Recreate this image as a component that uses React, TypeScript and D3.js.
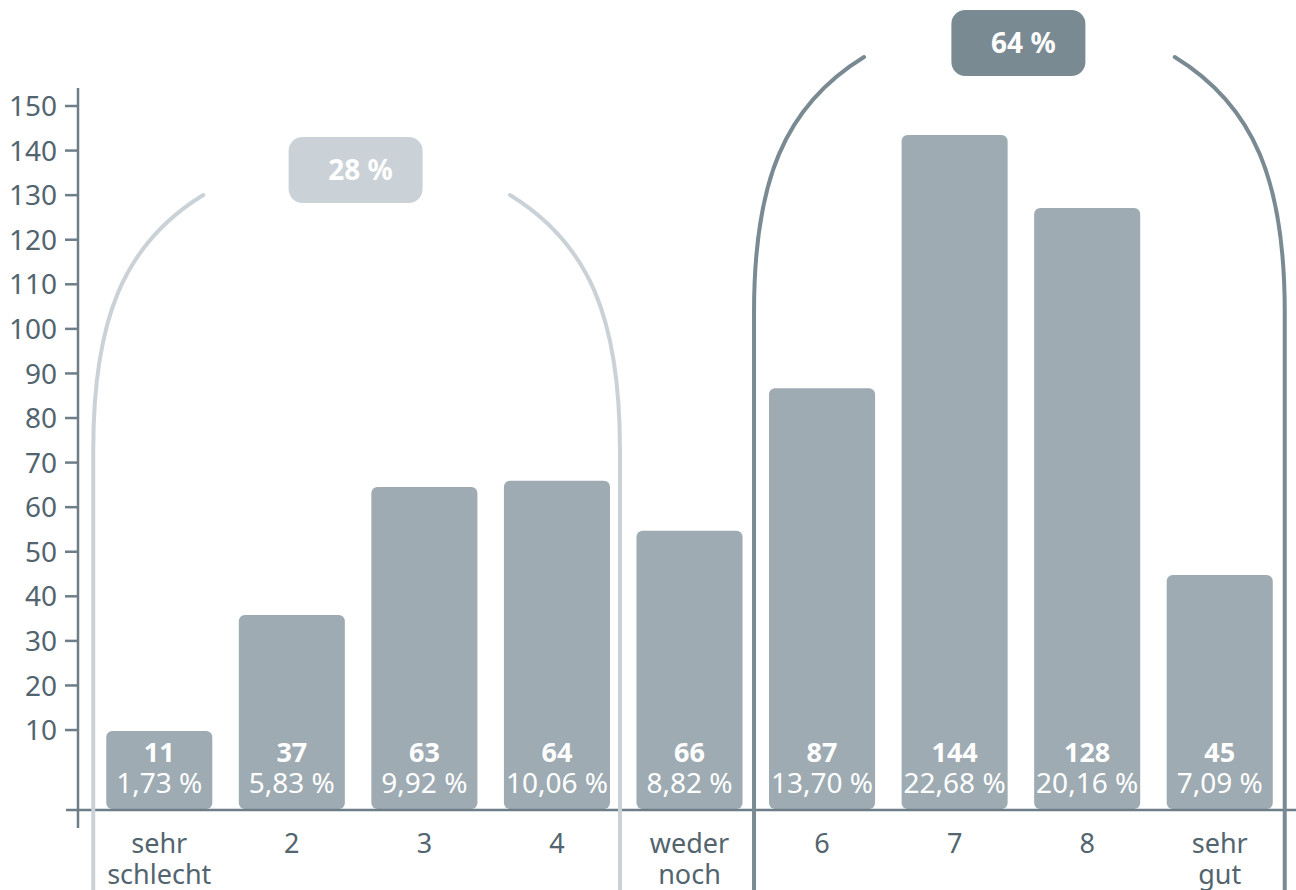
import React from "react";
import * as d3 from "d3";

const categories = ["sehr schlecht", "2", "3", "4", "weder noch", "6", "7", "8", "sehr gut"];
const categoryLines = [["sehr", "schlecht"], ["2"], ["3"], ["4"], ["weder", "noch"], ["6"], ["7"], ["8"], ["sehr", "gut"]];
const barHeights = [9.8, 35.8, 64.5, 65.9, 54.7, 86.7, 143.5, 127.1, 44.8];
const countLabels = ["11", "37", "63", "64", "66", "87", "144", "128", "45"];
const percentLabels = ["1,73 %", "5,83 %", "9,92 %", "10,06 %", "8,82 %", "13,70 %", "22,68 %", "20,16 %", "7,09 %"];
const yTicks = [10, 20, 30, 40, 50, 60, 70, 80, 90, 100, 110, 120, 130, 140, 150];
const groupLabels = ["28 %", "64 %"];
const groupFirst = [0, 5];
const groupLast = [3, 8];

const W = 1296;
const H = 890;
const FONT = "'Noto Sans', 'Open Sans', sans-serif";
const BAR = "#9eabb3";
const AXIS = "#6d7e88";
const TEXT = "#52656f";
const groupColors = ["#cbd2d7", "#7a8a92"];
const groupVertY = [450, 312];
const groupPadL = [13, 15];
const groupPadR = [10, 12];
const badgeY = [137, 10];

export default function App() {
  const x = d3.scaleBand<string>().domain(categories).range([93, 1286]).paddingInner(0.2).paddingOuter(0.1);
  const y = d3.scaleLinear().domain([0, 150]).range([774.6, 106]);
  const base = 810;
  const bw = x.bandwidth();

  return (
    <div>
      <style>{`body{margin:0}`}</style>
      <svg width={W} height={H} style={{ display: "block", fontFamily: FONT }}>
        {categories.map((c, i) => (
          <rect key={c} x={x(c)} y={y(barHeights[i])} width={bw} height={base - 1 - y(barHeights[i])} rx={6} fill={BAR} />
        ))}
        {categories.map((c, i) => (
          <g key={"l" + c}>
            <text x={(x(c) as number) + bw / 2} y={762} textAnchor="middle" fill="#fff" fontSize={27} fontWeight="bold">
              {countLabels[i]}
            </text>
            <text x={(x(c) as number) + bw / 2} y={793} textAnchor="middle" fill="#fff" fontSize={28}>
              {percentLabels[i]}
            </text>
          </g>
        ))}
        <line x1={78} x2={78} y1={88} y2={828} stroke={AXIS} strokeWidth={2.5} />
        <line x1={66} x2={W} y1={base} y2={base} stroke={AXIS} strokeWidth={2.5} />
        {yTicks.map((t) => (
          <g key={t}>
            <line x1={65} x2={78} y1={y(t)} y2={y(t)} stroke={AXIS} strokeWidth={2.5} />
            <text x={57} y={y(t)} dy="0.36em" textAnchor="end" fill={TEXT} fontSize={28}>
              {t}
            </text>
          </g>
        ))}
        {categories.map((c, i) => (
          <text key={"c" + c} x={(x(c) as number) + bw / 2} y={853} textAnchor="middle" fill={TEXT} fontSize={27}>
            {categoryLines[i].map((s, j) => (
              <tspan key={j} x={(x(c) as number) + bw / 2} y={853 + j * 31}>
                {s}
              </tspan>
            ))}
          </text>
        ))}
        {groupLabels.map((g, k) => {
          const L = (x(categories[groupFirst[k]]) as number) - groupPadL[k];
          const R = (x(categories[groupLast[k]]) as number) + bw + groupPadR[k];
          const yv = groupVertY[k];
          const path = d3.path();
          path.moveTo(L, H);
          path.lineTo(L, yv);
          path.bezierCurveTo(L, yv - 130, L + 30, yv - 206, L + 110, yv - 255);
          path.moveTo(R, H);
          path.lineTo(R, yv);
          path.bezierCurveTo(R, yv - 130, R - 30, yv - 206, R - 110, yv - 255);
          const cx = (L + R) / 2;
          const by = badgeY[k];
          return (
            <g key={g}>
              <path d={path.toString()} fill="none" stroke={groupColors[k]} strokeWidth={4} strokeLinecap="round" />
              <rect x={cx - 68} y={by} width={134} height={66} rx={14} fill={groupColors[k]} />
              <text x={cx + 4} y={by + 43} textAnchor="middle" fill="#fff" fontSize={28} fontWeight="bold">
                {g}
              </text>
            </g>
          );
        })}
      </svg>
    </div>
  );
}
